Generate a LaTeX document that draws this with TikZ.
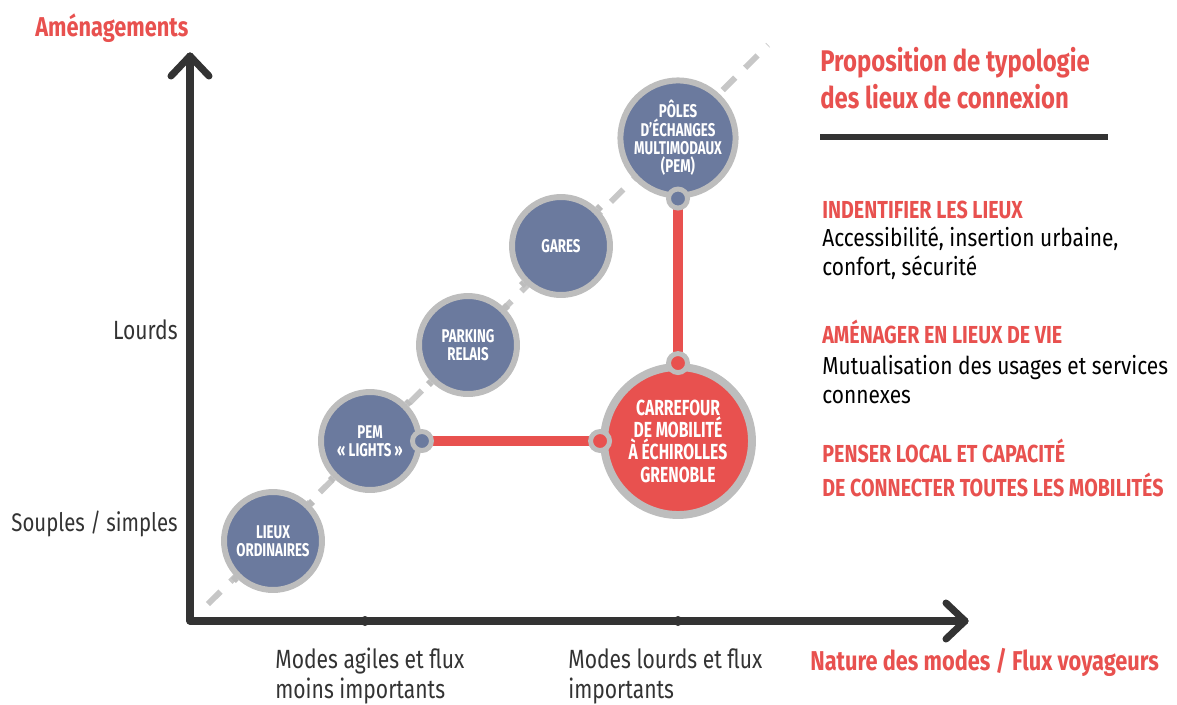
\documentclass[tikz,border=0pt]{standalone}
\usepackage{fontspec}
\setmainfont{Fira Sans}[FakeStretch=0.72]
\newfontfamily\labelfont{Fira Sans}[FakeStretch=0.8]
\newfontfamily\bodyfont{Fira Sans}[FakeStretch=0.85]
\usetikzlibrary{calc}

\definecolor{accent}{HTML}{E8514F}
\definecolor{slate}{HTML}{6B7A9E}
\definecolor{ring}{HTML}{BDBDBD}
\definecolor{ink}{HTML}{333333}

\begin{document}
\begin{tikzpicture}[x=0.02cm, y=0.02cm,
    axis/.style={ink, line width=4pt, line cap=round, line join=round},
    place/.style={circle, fill=slate, draw=ring, line width=3.4pt,
      minimum size=1.96cm, inner sep=0pt, text=white, align=center,
      font=\bfseries\fontsize{10.5}{10.4}\selectfont},
    hub/.style={place, fill=accent, line width=4.5pt, minimum size=2.96cm,
      font=\bfseries\fontsize{12.4}{12.7}\selectfont},
    port/.style={circle, draw=ring, line width=2.8pt, minimum size=0.38cm,
      inner sep=0pt},
    link/.style={accent, line width=6.2pt},
    notch/.style={ring, line width=4pt},
    axislabel/.style={ink, inner sep=0pt, font=\labelfont\fontsize{15}{17}\selectfont, align=left},
    redlabel/.style={accent, inner sep=0pt, font=\labelfont\bfseries\fontsize{15.5}{17}\selectfont},
    heading/.style={accent, inner sep=0pt, font=\labelfont\bfseries\fontsize{14}{18.8}\selectfont, align=left},
    body/.style={black, inner sep=0pt, font=\bodyfont\fontsize{14}{16.2}\selectfont, align=left},
  ]
  \useasboundingbox (0,0) rectangle (1177,-704);

  % diagonal guide
  \draw[ring!85, line width=3.4pt, dash pattern=on 10pt off 8pt] (208,-604) -- (768,-45);

  % axes
  \coordinate (origin) at (190,-621);
  \coordinate (ytop) at (190,-56);
  \coordinate (xend) at (965,-621);
  \draw[axis] (ytop) -- (origin) -- (xend);
  \draw[axis] (171,-76) -- (ytop) -- (209,-76);
  \draw[axis] (946,-603) -- (xend) -- (946,-639);
  \fill[ink] (365,-621) circle (5);
  \fill[ink] (678,-621) circle (5);

  % lieux
  \node[place] (lieux) at (273,-541) {LIEUX\\ORDINAIRES};
  \node[place] (pem) at (370,-441) {PEM\\« LIGHTS »};
  \node[place] (parking) at (468,-345) {PARKING\\RELAIS};
  \node[place] (gares) at (561,-246) {GARES};
  \node[place] (poles) at (678,-138) {PÔLES\\D’ÉCHANGES\\MULTIMODAUX\\(PEM)};
  \node[hub] (hub) at (678,-441) {CARREFOUR\\DE MOBILITÉ\\À ÉCHIROLLES\\GRENOBLE};

  \foreach \n in {lieux,pem,parking,gares}{
    \draw[notch] (\n.45) -- ++(45:4);
    \draw[notch] (\n.225) -- ++(225:4);
  }

  % connexions
  \draw[link] (pem.east) -- (hub.west);
  \draw[link] (poles.south) -- (hub.north);
  \node[port, fill=slate] (p1) at (pem.east) {};
  \node[port, fill=accent] (p2) at (hub.west) {};
  \node[port, fill=accent] (p3) at (hub.north) {};
  \node[port, fill=slate] (p4) at (poles.south) {};

  % axes labels
  \node[redlabel, anchor=base west] (ylab) at (35,-36) {Aménagements};
  \node[axislabel, anchor=base east] (lourds) at (178,-339) {Lourds};
  \node[axislabel, font=\labelfont\fontsize{14.5}{17}\selectfont, anchor=base east]
    (souples) at (178,-531) {Souples / simples};
  \node[axislabel, anchor=base west] (agiles) at (275,-698) {Modes agiles et flux\\moins importants};
  \node[axislabel, anchor=base west] (lourdsx) at (568,-698) {Modes lourds et flux\\importants};
  \node[redlabel, anchor=base west] (xlab) at (810,-670) {Nature des modes / Flux voyageurs};

  % typologie
  \node[accent, inner sep=0pt, font=\labelfont\bfseries\fontsize{17}{20.5}\selectfont, align=left, anchor=base west]
    (titre) at (820,-108) {Proposition de typologie\\des lieux de connexion};
  \draw[ink, line width=3.4pt] (820,-137) -- (1108,-137);
  \node[heading, anchor=base west] (h1) at (822,-218) {INDENTIFIER LES LIEUX};
  \node[body, anchor=base west] (b1) at (822,-275) {Accessibilité, insertion urbaine,\\confort, sécurité};
  \node[heading, anchor=base west] (h2) at (822,-343) {AMÉNAGER EN LIEUX DE VIE};
  \node[body, anchor=base west] (b2) at (822,-403) {Mutualisation des usages et services\\connexes};
  \node[heading, anchor=base west] (h3) at (822,-496) {PENSER LOCAL ET CAPACITÉ\\DE CONNECTER TOUTES LES MOBILITÉS};
\end{tikzpicture}
\end{document}
